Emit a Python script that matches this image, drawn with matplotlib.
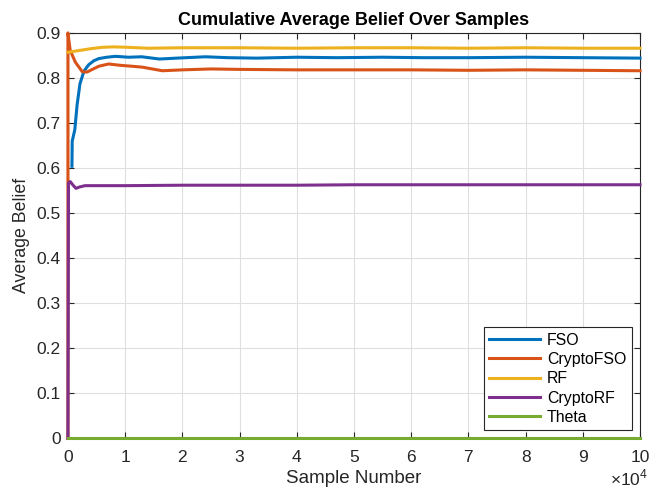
import matplotlib
matplotlib.use('Agg')
import matplotlib.pyplot as plt
from matplotlib.ticker import FuncFormatter

"""
Cumulative average belief of each classifier over the samples.
"""

# series
fso_x = [700, 750, 1200, 1600, 2100, 2800, 3600, 4500, 5400, 6800, 8300, 10600, 12900, 16000,
         19000, 24000, 28000, 33000, 40000, 47000, 55000, 62000, 70000, 80000, 90000, 100000]
fso_y = [0.604, 0.66, 0.685, 0.74, 0.787, 0.815, 0.829, 0.838, 0.843, 0.846, 0.848, 0.846, 0.847, 0.842,
         0.844, 0.847, 0.845, 0.844, 0.846, 0.845, 0.846, 0.845, 0.845, 0.846, 0.845, 0.844]

cfso_x = [0, 0, 150, 400, 1300, 2500, 3300, 5400, 7100, 9200, 11200, 13000, 16500, 20000, 25000,
          30000, 40000, 50000, 60000, 70000, 80000, 90000, 100000]
cfso_y = [0.0, 0.90, 0.885, 0.861, 0.835, 0.814, 0.813, 0.826, 0.831, 0.828, 0.826, 0.824, 0.816, 0.818,
          0.820, 0.819, 0.818, 0.818, 0.818, 0.817, 0.818, 0.817, 0.816]

rf_x = [0, 1000, 2500, 4000, 6000, 8000, 10500, 14000, 20000, 30000, 40000, 50000, 60000, 70000,
        80000, 90000, 100000]
rf_y = [0.857, 0.859, 0.862, 0.865, 0.868, 0.869, 0.868, 0.866, 0.867, 0.867, 0.866, 0.867, 0.867,
        0.866, 0.867, 0.866, 0.866]

crf_x = [0, 100, 400, 900, 1400, 2000, 3000, 5000, 10000, 20000, 30000, 40000, 50000, 60000, 70000,
         80000, 90000, 100000]
crf_y = [0.0, 0.567, 0.570, 0.562, 0.555, 0.558, 0.561, 0.561, 0.561, 0.562, 0.562, 0.562, 0.563,
         0.563, 0.563, 0.563, 0.563, 0.563]

theta_x = [0, 100000]
theta_y = [0.0, 0.0]

names = ['FSO', 'CryptoFSO', 'RF', 'CryptoRF', 'Theta']
colors = ['#0072BD', '#D95319', '#EDB120', '#7E2F8E', '#77AC30']
ink = '#262626'

plt.rcParams['font.family'] = ['Liberation Sans', 'DejaVu Sans']
plt.rcParams['mathtext.fontset'] = 'custom'
plt.rcParams['mathtext.rm'] = 'Liberation Sans'

fig = plt.figure(figsize=(6.66, 4.91), dpi=100)
ax = fig.add_axes([0.102, 0.107, 0.859, 0.826])

series = [(fso_x, fso_y), (cfso_x, cfso_y), (rf_x, rf_y), (crf_x, crf_y), (theta_x, theta_y)]
for (xs, ys), name, col in zip(series, names, colors):
    # lines sit on top of the box like in MATLAB
    ax.plot(xs, ys, color=col, lw=2.2, label=name, clip_on=False, zorder=3)

ax.set_xlim(0, 100000)
ax.set_ylim(0, 0.9)
ax.set_xticks([i * 10000 for i in range(11)])
ax.xaxis.set_major_formatter(FuncFormatter(lambda v, p: '%d' % round(v / 10000)))
ax.set_yticks([i / 10 for i in range(10)])
ax.set_yticklabels(['0', '0.1', '0.2', '0.3', '0.4', '0.5', '0.6', '0.7', '0.8', '0.9'])

ax.grid(True, color='#dfdfdf', lw=0.8)
ax.set_axisbelow(True)
ax.tick_params(direction='in', top=True, right=True, length=4, width=0.8,
               labelsize=12.5, colors=ink)
ax.tick_params(axis='x', pad=8)
ax.tick_params(axis='y', pad=5)
for sp in ax.spines.values():
    sp.set_color(ink)
    sp.set_linewidth(0.8)

ax.set_title('Cumulative Average Belief Over Samples', fontsize=13, fontweight='bold', pad=6)
ax.set_xlabel('Sample Number', fontsize=13.5, color=ink, labelpad=4)
ax.set_ylabel('Average Belief', fontsize=12.8, color=ink, labelpad=5)
fig.text(648 / 666, 1 - 485 / 491, r'$\times10^{4}$', ha='right', va='baseline',
         fontsize=12.5, color=ink)

leg = ax.legend(loc='lower right', fontsize=11.4, handlelength=3.2, handletextpad=0.45,
                fancybox=False, framealpha=1, edgecolor=ink, borderpad=0.35,
                labelspacing=0.27, borderaxespad=0, bbox_to_anchor=(0.986, 0.02))
leg.get_frame().set_linewidth(0.8)
leg.set_zorder(5)

fig.savefig('out.png', dpi=100)
